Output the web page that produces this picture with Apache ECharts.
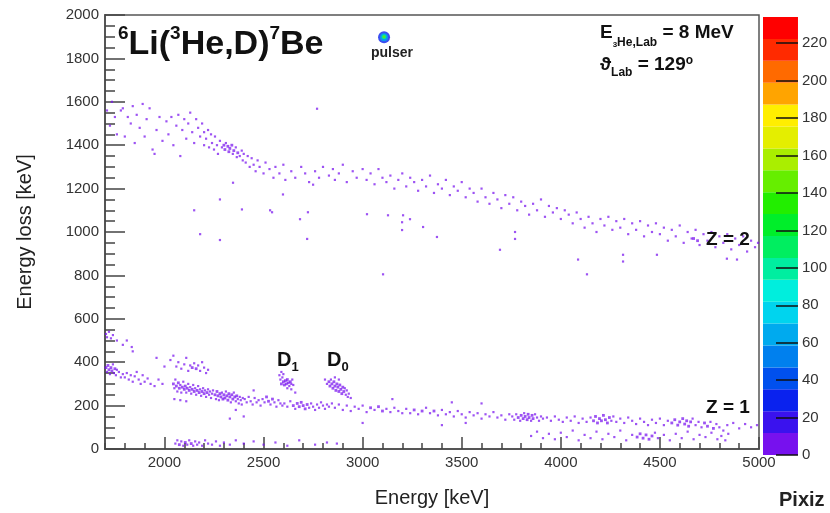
<!DOCTYPE html>
<html>
<head>
<meta charset="utf-8">
<script src="https://cdn.jsdelivr.net/npm/echarts@6/dist/echarts.min.js"></script>
<style>
html,body{margin:0;padding:0;background:#fff;}
#c{width:830px;height:513px;}
</style>
</head>
<body>
<div id="c"></div>
<script>
// ---------- DATA ----------
const xMajorTicks = [2000, 2500, 3000, 3500, 4000, 4500, 5000];
const colorbarTicks = [0, 20, 40, 60, 80, 100, 120, 140, 160, 180, 200, 220];
const colorbarMax = 234;
const paletteColors = ['#7711ee','#3a12ee','#0a22ee','#0050ee','#0080ee','#00aaee','#00d4ee','#00eedd','#00eea0','#00ee60','#00ee2a','#22ee00','#66ee00','#aaee00','#e4ee00','#ffee00','#ffa400','#ff6a00','#ff2a00','#ff0000'];

// Z = 2 band  [energy keV, energy loss keV, counts]
const z2Band = [
[1710,1560],[1725,1490],[1735,1600],[1750,1530],[1760,1450],[1780,1560],[1790,1570],[1800,1440],[1815,1530],[1830,1500],[1840,1580],[1850,1410],[1860,1540],[1875,1480],[1890,1590],[1900,1440],[1910,1520],[1925,1570],[1940,1380],[1950,1360],[1960,1470],[1975,1530],[1990,1420],
[2010,1510],[2020,1450],[2035,1530],[2045,1400],[2060,1490],[2070,1540],[2080,1350],[2090,1470],[2100,1520],[2110,1430],[2120,1500],[2130,1550],[2140,1460],[2150,1410],[2160,1520],[2170,1480],[2180,1440],[2190,1500],[2200,1460],[2200,1400],
[2210,1430],[2220,1470],[2225,1390],[2235,1450],[2240,1410],[2250,1380],[2255,1440],[2265,1400],[2270,1360],[2280,1420],[2290,1390],[2300,1400,3],[2305,1380,2],[2310,1410],[2320,1395,4],[2325,1370,2],[2330,1385,3],[2340,1400,2],[2345,1360],[2350,1375,3],[2360,1390],[2365,1345],[2370,1365,2],[2380,1350],[2390,1375],[2395,1330],[2400,1360],[2410,1320],[2420,1350],[2430,1300],[2440,1340],[2450,1310],[2460,1280],[2470,1330],
[2480,1300],[2500,1270],[2510,1320],[2530,1290],[2550,1250],[2560,1300],[2580,1270],[2600,1310],[2610,1240],[2640,1280],[2660,1250],[2690,1300],[2710,1270],[2730,1230],[2760,1280],[2780,1250],[2800,1300],[2830,1260],[2850,1290],[2860,1240],[2880,1270],[2900,1310],[2920,1230],[2950,1280],[2970,1250],
[3000,1290],[3020,1240],[3040,1270],[3060,1220],[3080,1290],[3100,1250],[3120,1230],[3140,1260],[3160,1200],[3180,1240],[3200,1270],[3220,1210],[3240,1250],[3260,1230],[3280,1190],[3300,1240],[3320,1210],[3340,1260],[3360,1180],[3380,1220],[3400,1200],[3420,1240],[3440,1170],[3460,1210],[3480,1190],
[3500,1230],[3520,1160],[3540,1200],[3560,1180],[3580,1140],[3600,1200],[3620,1160],[3640,1130],[3660,1180],[3680,1150],[3700,1110],[3720,1170],[3740,1130],[3760,1160],[3780,1100],[3800,1140],[3820,1120],[3840,1080],[3860,1130],[3880,1100],[3900,1150],[3920,1070],[3940,1120],[3960,1090],[3980,1110],
[4000,1060],[4020,1100],[4040,1080],[4060,1040],[4080,1090],[4100,1060],[4120,1020],[4140,1070],[4160,1040],[4180,1000],[4200,1060],[4220,1030],[4240,1070],[4260,1010],[4280,1050],[4300,1020],[4320,1060],[4340,990],[4360,1040],[4380,1010],[4400,1050],[4420,980],[4440,1030],[4460,1000],[4480,1040],
[4500,990],[4520,1020],[4540,960],[4560,1010],[4580,980],[4600,1030],[4620,950],[4640,1000],[4660,970],[4670,970,2],[4680,1010],[4690,960,2],[4700,940],[4720,990],[4740,960],[4760,1000],[4780,930],[4800,980],[4820,950],[4840,990],[4860,920],[4880,970],[4900,940],[4920,980],[4940,910],[4960,960],[4980,930],[4995,950]
];
const z2Stray = [
[2150,1100],[2180,990],[2280,1150],[2280,963],[2346,1227],[2391,1104],[2533,1100],[2543,1091],[2598,1173],[2684,1059],[2724,1091],[2720,968],[2750,1218],[2770,1568],
[3022,1082],[3128,1077],[3204,1077],[3199,1045],[3199,1009],[3239,1059],[3305,1023],[3375,977],[3693,918],[3769,1000],[3769,968],[3103,805],
[4087,873],[4314,895],[4314,864],[4485,895],[4132,805],[4838,877],[4889,873]
];
// Z = 1 band
const z1Band = [
[1705,375,2],[1710,355],[1715,385,2],[1720,365,3],[1725,345],[1730,375,2],[1735,360,2],[1740,390],[1745,350],[1750,370,2],[1755,340],[1760,365],[1770,355],[1780,330],[1790,345],
[1705,530],[1710,515],[1720,540],[1730,510],[1740,525],[1760,500],[1790,480],[1810,500],[1835,470],[1840,450],
[1800,330],[1810,350],[1820,320],[1830,340],[1840,310],[1850,335],[1860,355],[1870,320],[1880,300],[1890,340],[1900,310],[1915,325],[1930,300],[1950,290],[1970,320],[1990,300],[2000,380],[1960,420],
[2030,410],[2045,430],[2060,380],[2070,400],[2085,370],[2100,390],[2110,420],[2120,360],[2130,385],[2140,375,2],[2150,395],[2160,370,2],[2170,385],[2180,360],[2190,400],[2200,375],[2210,350],[2220,365],
[2045,300,2],[2050,280],[2055,320],[2060,290,3],[2065,265],[2070,305,2],[2075,280,3],[2080,295],[2085,260],[2090,285,3],[2095,310],[2100,275,2],[2105,290,2],[2110,260],[2115,280,3],[2120,300],[2125,270,2],[2130,285],[2135,255],[2140,275,3],[2145,295],[2150,265,2],[2155,280],[2160,250],[2165,270,2],[2170,290],[2175,260,2],[2180,275],[2185,245],[2190,265,2],[2195,280],[2200,255,2],[2205,270],[2210,240],[2215,260,2],[2220,275],[2225,250],[2230,265],[2235,235],[2240,255],[2245,270],[2050,230],[2080,225],[2110,220],
[2255,250,2],[2260,230],[2265,265,2],[2270,245,3],[2275,225],[2280,255,2],[2285,240,3],[2290,260],[2295,230,2],[2300,250,3],[2305,235,2],[2310,265],[2315,245,3],[2320,225,2],[2325,255,2],[2330,240,3],[2335,215],[2340,250,2],[2345,230,2],[2350,260],[2355,240,2],[2360,220],[2365,245,2],[2370,230],[2375,210],[2380,240],[2385,225],[2390,205],[2395,235],[2360,180],[2330,140],
[2405,230],[2415,215],[2425,240],[2435,220],[2445,205],[2455,235],[2465,215],[2475,225],[2485,200],[2495,230],[2505,215],[2515,240,2],[2525,220,2],[2535,205],[2545,230,2],[2555,215],[2565,195],[2575,225],[2585,210],[2595,200],[2450,270],[2400,150],
[2605,210],[2620,195],[2635,220],[2650,200,2],[2660,185],[2670,210,2],[2680,195,2],[2690,215,3],[2700,200,2],[2710,185,2],[2720,205,3],[2730,190],[2740,210],[2750,195],[2760,180],[2770,205],[2780,190],[2790,215],[2800,200],[2810,185],[2820,205],[2830,195],[2845,210],
[2860,190],[2880,205],[2900,180],[2920,200],[2940,175],[2960,195],[2980,185],[3000,200],[3020,170],[3040,190,2],[3060,180],[3080,195,2],[3100,175,2],[3120,185],[3140,170],[3160,190],[3180,175],[3200,165],[3000,120],[3150,230],
[3220,185],[3240,165],[3260,180,2],[3280,160],[3300,175,2],[3320,190],[3340,165],[3360,175,2],[3380,155],[3400,180],[3420,160],[3440,170],[3460,150],[3480,175],[3500,160],[3520,145],[3540,170],[3560,155],[3580,165],[3600,140],[3620,160],[3640,150],[3660,170],[3680,145],[3700,155],[3720,135],[3740,160],[3400,110],[3520,120],[3450,215],[3600,210],
[3755,150],[3765,135],[3775,160],[3785,145,2],[3795,130],[3800,155,2],[3810,140,3],[3815,165],[3820,150,3],[3830,135,2],[3835,160,2],[3840,145,3],[3850,130],[3855,155,2],[3860,140,2],[3870,160],[3880,145],[3890,130],[3900,150],[3910,140],
[3930,145],[3950,130],[3970,150],[3990,135],[4010,125],[4030,145],[4050,130],[4070,150],[4090,120],[4110,140],[4130,125],[4150,145],[4165,130,2],[4175,150,2],[4185,120,2],[4195,140,3],[4205,130,3],[4215,155,2],[4225,135,3],[4235,120,2],[4245,145,2],[4255,130],[4265,150],[4280,125],[4300,140],[4320,120],[4340,145],[4360,130],[4380,115],[4400,140],[4420,125],[4440,110],[4460,135],[4480,120],[4500,140],[4520,110],[4540,130],[4560,120,2],[4575,135,2],[4590,110,2],[4600,125,3],[4615,140,2],[4625,115,2],[4635,130,3],[4645,105,2],[4655,125,2],[4665,140],[4680,110],[4695,125],[4710,100],[4725,120,2],[4740,105,2],[4755,125],[4770,95,2],[4785,115],[4800,100],[4820,85],[4840,110],[4870,120],[4900,95],[4930,115],[4960,100],[4990,110]
];
const z1Lower = [
[3850,60],[3880,80],[3910,50],[3940,70],[3970,45],[4000,75],[4030,55],[4060,85],[4090,40],[4120,65],[4150,50],[4180,80],[4210,45],[4240,70],[4270,55],[4300,85],[4330,40],[4360,65],[4385,55,2],[4400,70,2],[4415,50,2],[4430,65,3],[4445,45,2],[4460,60,2],[4475,75],[4490,50],[4520,65],[4550,40],[4580,70],[4610,50],[4640,80],[4670,45],[4700,65],[4730,55],[4760,75],[4790,45],[4810,60],[4830,40],[4845,70]
];
const bottomRow = [
[2055,25],[2065,40],[2075,20,2],[2085,35],[2095,15],[2105,30,2],[2115,20],[2125,40],[2135,25,2],[2145,15],[2155,35],[2165,20],[2175,30],[2190,15],[2205,40],[2220,25],[2240,20],[2260,35],[2280,15],[2300,30],[2330,20],[2360,40],[2400,25],[2450,35],[2500,20],[2560,30],[2620,15],[2680,40],[2760,20],[2820,30],[2870,25]
];
const d1Peak = [
[2580,340],[2585,320],[2590,300,2],[2595,330],[2600,310,3],[2605,295,2],[2610,315,4],[2615,300,3],[2620,320,2],[2625,305,3],[2630,290],[2635,310,2],[2640,300],[2645,320],[2650,295],[2590,355],[2600,345],[2620,280],[2640,275],[2660,260]
];
const d0Peak = [
[2810,320],[2820,300],[2830,310,2],[2835,290,2],[2840,320],[2845,300,3],[2850,280,3],[2855,310,2],[2860,290,4],[2865,270,3],[2870,300,4],[2875,285,5],[2880,265,3],[2885,295,3],[2890,275,4],[2895,255,2],[2900,285,2],[2905,265,2],[2910,280],[2915,250],[2920,270],[2925,240],[2930,255],[2940,235],[2860,330],[2880,320]
];
const pulser = [[3108,1898,35],[3108,1898,70],[3108,1900,105],[3108,1900,150]];

// ---------- BUILD ----------
const FONT = 'Liberation Sans';
const withCount = a => a.map(p => [p[0], p[1], p[2] || 1]);
const scatterData = [].concat(withCount(z2Band), withCount(z2Stray), withCount(z1Band), withCount(z1Lower), withCount(bottomRow), withCount(d1Peak), withCount(d0Peak));
const bandStep = colorbarMax / paletteColors.length;
const pieces = paletteColors.map((c, i) => ({ gte: i * bandStep, lt: (i + 1) * bandStep, color: c }));
const plain = v => String(v);

const cbSeries = paletteColors.map(c => ({
  type: 'bar', xAxisIndex: 2, yAxisIndex: 1, stack: 'cb', data: [bandStep],
  barWidth: '100%', itemStyle: { color: c }, silent: true, z: 1
}));

const chart = echarts.init(document.getElementById('c'), null, { renderer: 'canvas' });
const axisLineStyle = { color: '#555', width: 2 };
chart.setOption({
  animation: false,
  textStyle: { fontFamily: FONT },
  grid: [
    { left: 105, right: 71, top: 15, bottom: 58, show: true, borderColor: '#555', borderWidth: 1.5, backgroundColor: 'transparent' },
    { left: 763, width: 37, top: 17, bottom: 58 }
  ],
  visualMap: { type: 'piecewise', show: false, dimension: 2, seriesIndex: [0, 1], pieces: pieces },
  xAxis: [
    { type: 'value', gridIndex: 0, position: 'bottom', min: 1700, max: 5000, interval: 100,
      axisLine: { show: true, onZero: false, lineStyle: axisLineStyle },
      axisTick: { show: true, inside: true, length: 6, lineStyle: { color: '#444', width: 1.5 } },
      axisLabel: { show: false }, splitLine: { show: false },
      name: 'Energy [keV]', nameLocation: 'middle', nameGap: 39,
      nameTextStyle: { fontSize: 20, color: '#222', fontFamily: FONT } },
    { type: 'value', gridIndex: 0, position: 'bottom', min: 1700, max: 5000,
      axisLine: { show: false, onZero: false },
      axisTick: { show: true, inside: true, length: 12, customValues: xMajorTicks, lineStyle: { color: '#444', width: 1.5 } },
      axisLabel: { show: true, customValues: xMajorTicks, formatter: plain, fontSize: 15, color: '#333', margin: 6, fontFamily: FONT },
      splitLine: { show: false } },
    { type: 'category', gridIndex: 1, data: ['c'], show: false }
  ],
  yAxis: [
    { type: 'value', gridIndex: 0, min: 0, max: 2000, interval: 200,
      axisLine: { show: true, onZero: false, lineStyle: axisLineStyle },
      axisTick: { show: true, inside: true, length: 20, lineStyle: { color: '#444', width: 1.5 } },
      minorTick: { show: true, splitNumber: 4, length: 10, lineStyle: { color: '#444', width: 1.5 } },
      axisLabel: { fontSize: 15, color: '#333', margin: 6, formatter: plain, fontFamily: FONT },
      splitLine: { show: false }, minorSplitLine: { show: false },
      name: 'Energy loss [keV]', nameLocation: 'middle', nameGap: 70, nameRotate: 90,
      nameTextStyle: { fontSize: 20, color: '#222', fontFamily: FONT } },
    { type: 'value', gridIndex: 1, min: 0, max: colorbarMax, position: 'right', z: 5,
      axisLine: { show: false },
      axisTick: { show: true, inside: true, length: 22, customValues: colorbarTicks, lineStyle: { color: '#111', width: 1.5 } },
      axisLabel: { show: true, customValues: colorbarTicks, formatter: plain, fontSize: 15, color: '#333', margin: 4, fontFamily: FONT },
      splitLine: { show: false } }
  ],
  series: [
    { type: 'scatter', xAxisIndex: 0, yAxisIndex: 0, data: scatterData, symbol: 'rect',
      symbolSize: v => (v[2] > 1 ? 2.8 : 2.2), itemStyle: { opacity: 0.72 }, silent: true, z: 2 },
    { type: 'scatter', xAxisIndex: 0, yAxisIndex: 0, data: pulser, symbol: 'circle',
      symbolSize: v => (v[2] >= 140 ? 3 : v[2] >= 100 ? 5 : v[2] >= 60 ? 8 : 12), silent: true, z: 3 }
  ].concat(cbSeries),
  graphic: [
    { type: 'text', left: 118, top: 24, z: 10,
      style: { text: '{s|6}{m|Li(}{s|3}{m|He,D)}{s|7}{m|Be}',
        rich: { m: { fontSize: 34, fontWeight: 'bold', fontFamily: FONT, fill: '#111', lineHeight: 38, verticalAlign: 'bottom' },
                s: { fontSize: 19, fontWeight: 'bold', fontFamily: FONT, fill: '#111', lineHeight: 22, verticalAlign: 'top' } } } },
    { type: 'text', z: 10, style: { x: 392, y: 53, text: 'pulser', fontSize: 14, fontWeight: 'bold', fontFamily: FONT, fill: '#222', textAlign: 'center', textVerticalAlign: 'middle' } },
    { type: 'text', left: 600, top: 23, z: 10,
      style: { text: '{m|E}{t|3}{b|He,Lab}{m| = 8 MeV}',
        rich: { m: { fontSize: 19, fontWeight: 'bold', fontFamily: FONT, fill: '#111', lineHeight: 24, verticalAlign: 'top' },
                t: { fontSize: 8, fontWeight: 'bold', fontFamily: FONT, fill: '#111', lineHeight: 26, verticalAlign: 'bottom' },
                b: { fontSize: 12, fontWeight: 'bold', fontFamily: FONT, fill: '#111', lineHeight: 20, verticalAlign: 'bottom' } } } },
    { type: 'text', left: 600, top: 55, z: 10,
      style: { text: '{m|ϑ}{b|Lab}{m| = 129}{o|o}',
        rich: { m: { fontSize: 19, fontWeight: 'bold', fontFamily: FONT, fill: '#111', lineHeight: 24, verticalAlign: 'top' },
                b: { fontSize: 12, fontWeight: 'bold', fontFamily: FONT, fill: '#111', lineHeight: 20, verticalAlign: 'bottom' },
                o: { fontSize: 12, fontWeight: 'bold', fontFamily: FONT, fill: '#111', lineHeight: 14, verticalAlign: 'top' } } } },
    { type: 'text', z: 10, style: { x: 706, y: 240, text: 'Z = 2', fontSize: 19, fontWeight: 'bold', fontFamily: FONT, fill: '#111', textVerticalAlign: 'middle' } },
    { type: 'text', z: 10, style: { x: 706, y: 408, text: 'Z = 1', fontSize: 19, fontWeight: 'bold', fontFamily: FONT, fill: '#111', textVerticalAlign: 'middle' } },
    { type: 'text', left: 277, top: 350, z: 10,
      style: { text: '{m|D}{b|1}',
        rich: { m: { fontSize: 20, fontWeight: 'bold', fontFamily: FONT, fill: '#111', lineHeight: 24, verticalAlign: 'top' },
                b: { fontSize: 13, fontWeight: 'bold', fontFamily: FONT, fill: '#111', lineHeight: 18, verticalAlign: 'bottom' } } } },
    { type: 'text', left: 327, top: 350, z: 10,
      style: { text: '{m|D}{b|0}',
        rich: { m: { fontSize: 20, fontWeight: 'bold', fontFamily: FONT, fill: '#111', lineHeight: 24, verticalAlign: 'top' },
                b: { fontSize: 13, fontWeight: 'bold', fontFamily: FONT, fill: '#111', lineHeight: 18, verticalAlign: 'bottom' } } } },
    { type: 'text', z: 10, style: { x: 779, y: 500, text: 'Pixiz', fontSize: 20, fontWeight: 'bold', fontFamily: FONT, fill: '#222', textVerticalAlign: 'middle' } }
  ]
});
</script>
</body>
</html>
